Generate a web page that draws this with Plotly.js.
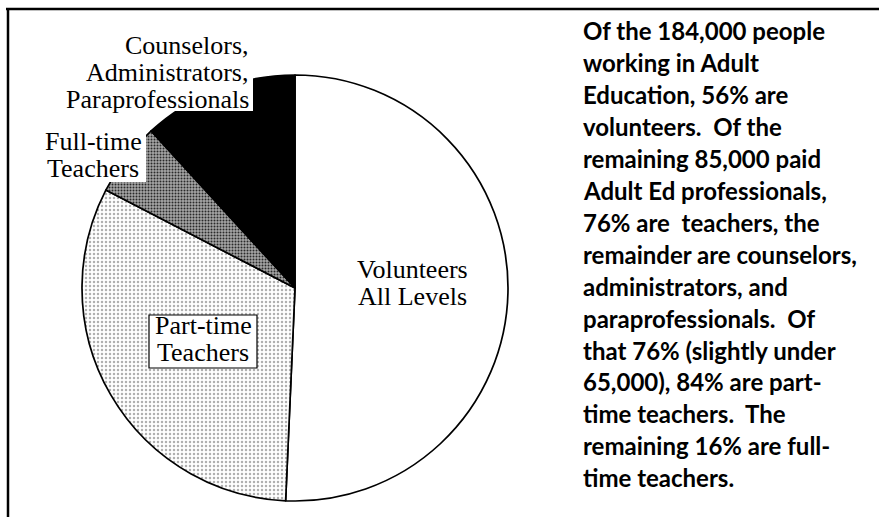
<!DOCTYPE html>
<html>
<head>
<meta charset="utf-8">
<script src="https://cdn.plot.ly/plotly-3.0.1.min.js"></script>
<style>
html,body{margin:0;padding:0;background:#fff;}
#chart{width:879px;height:517px;}
</style>
</head>
<body>
<div id="chart"></div>
<script>
// ---- data ----
var categories = ["Volunteers All Levels", "Part-time Teachers", "Full-time Teachers", "Counselors, Administrators, Paraprofessionals"];
var shares = [50.7, 31.9, 5.6, 11.8];   // percent of pie
var sliceColors = ["#ffffff", "#ffffff", "#8e8e8e", "#000000"];

var labelCounselors = ["Counselors,", "Administrators,", "Paraprofessionals"];
var labelFullTime = ["Full-time", "Teachers"];
var labelPartTime = ["Part-time", "Teachers"];
var labelVolunteers = ["Volunteers", "All Levels"];

var noteLines = [
  "Of the 184,000 people",
  "working in Adult",
  "Education, 56% are",
  "volunteers.\u00a0 Of the",
  "remaining 85,000 paid",
  "Adult Ed professionals,",
  "76% are\u00a0 teachers, the",
  "remainder are counselors,",
  "administrators, and",
  "paraprofessionals.\u00a0 Of",
  "that 76% (slightly under",
  "65,000), 84% are part-",
  "time teachers.\u00a0 The",
  "remaining 16% are full-",
  "time teachers."
];

// ---- layout helpers ----
var W = 879, H = 517;
function px(x){ return x / W; }
function py(y){ return 1 - y / H; }

var serif = "Liberation Serif, Times New Roman, serif";
var sans = "Lato, Open Sans, sans-serif";
var serifSize = 26, sansSize = 24;

var annotations = [];
function addLines(lines, xPix, anchor, baselines){
  lines.forEach(function(t, i){
    annotations.push({
      xref: "paper", yref: "paper",
      x: px(xPix), y: py(baselines[i] - 0.338 * serifSize),
      xanchor: anchor, yanchor: "middle", align: anchor,
      text: t, showarrow: false, borderpad: 0,
      font: {family: serif, size: serifSize, color: "#000"}
    });
  });
}
addLines(labelCounselors, 250, "right", [54, 81, 108]);
addLines(labelFullTime, 93, "center", [150, 177]);
addLines(labelPartTime, 203, "center", [334, 361]);
addLines(labelVolunteers, 412, "center", [278, 305]);

noteLines.forEach(function(t, i){
  var base = 40 + 31.93 * i;
  annotations.push({
    xref: "paper", yref: "paper",
    x: px(582), y: py(base - 0.387 * sansSize),
    xanchor: "left", yanchor: "middle", align: "left",
    text: t, showarrow: false, borderpad: 0,
    font: {family: sans, size: sansSize, color: "#000", weight: 700}
  });
});

var shapes = [
  {type: "line", xref: "paper", yref: "paper", x0: px(6), x1: 1, y0: py(9), y1: py(9), line: {color: "#000", width: 2.5}},
  {type: "line", xref: "paper", yref: "paper", x0: px(8), x1: px(8), y0: py(8), y1: 0, line: {color: "#000", width: 2.5}},
  // white label boxes that cut into the pie
  {type: "rect", xref: "paper", yref: "paper", layer: "above", x0: px(60), x1: px(253), y0: py(111), y1: py(28),
   fillcolor: "#ffffff", line: {width: 0}},
  {type: "rect", xref: "paper", yref: "paper", layer: "above", x0: px(38), x1: px(146), y0: py(182), y1: py(128),
   fillcolor: "#ffffff", line: {width: 0}},
  {type: "rect", xref: "paper", yref: "paper", layer: "above", x0: px(149), x1: px(257), y0: py(315), y1: py(368),
   fillcolor: "#ffffff", line: {color: "#000", width: 1.2}}
];

var trace = {
  type: "pie",
  labels: categories,
  values: shares,
  sort: false,
  direction: "clockwise",
  rotation: 0,
  textinfo: "none",
  hoverinfo: "label+percent",
  showlegend: false,
  marker: {
    colors: sliceColors,
    line: {color: "#000", width: 1.7},
    pattern: {
      shape: ["", ".", ".", ""],
      fgcolor: ["#000", "#b0b0b0", "#2a2a2a", "#000"],
      bgcolor: ["#ffffff", "#ffffff", "#a6a6a6", "#000000"],
      size: [6, 4, 3, 6],
      solidity: [0.3, 0.3, 0.35, 0.3]
    }
  },
  domain: {x: [px(82), px(508)], y: [py(501), py(75)]}
};

var layout = {
  width: W, height: H,
  margin: {l: 0, r: 0, t: 0, b: 0},
  paper_bgcolor: "#ffffff",
  plot_bgcolor: "#ffffff",
  annotations: annotations,
  shapes: shapes
};

Plotly.newPlot("chart", [trace], layout, {displayModeBar: false, staticPlot: true});
</script>
</body>
</html>
